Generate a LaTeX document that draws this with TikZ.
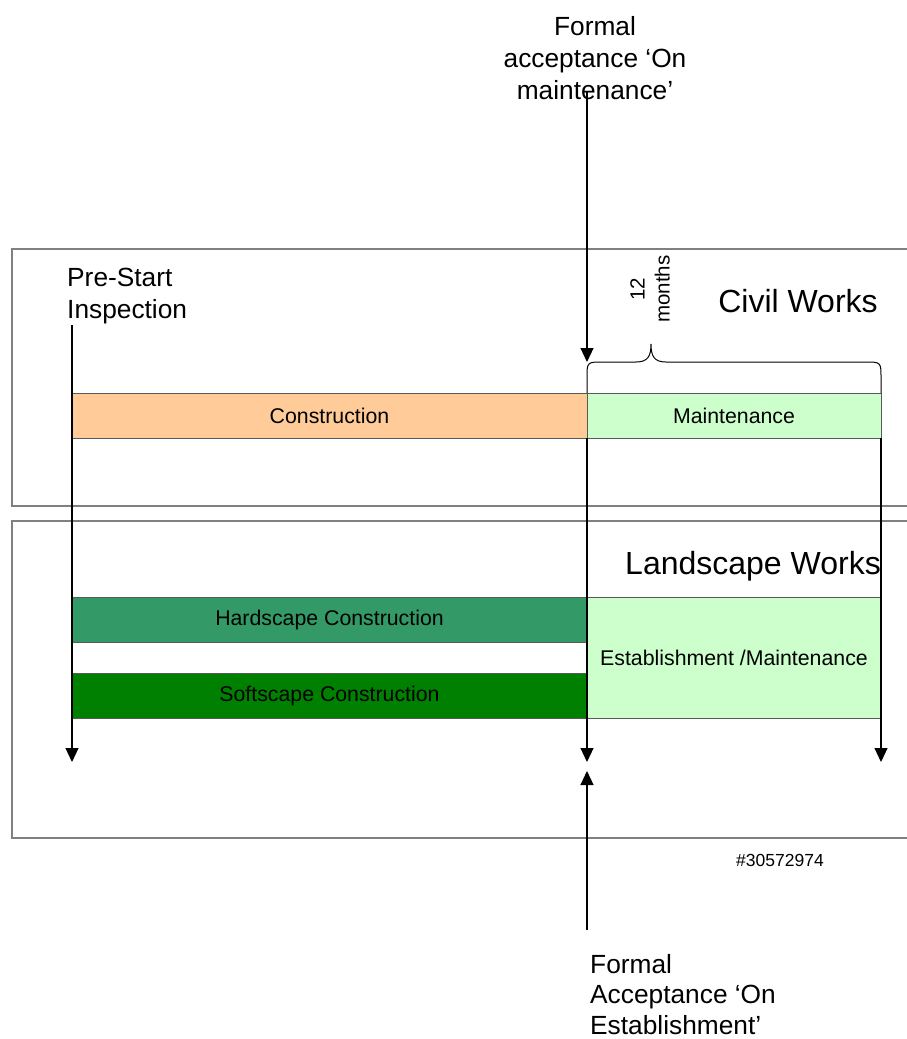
\documentclass[tikz,border=0pt]{standalone}
\usepackage{fontspec}
\setmainfont{Liberation Sans}
\usetikzlibrary{arrows.meta}
\definecolor{constrcol}{HTML}{FFCC99}
\definecolor{maintcol}{HTML}{CCFFCC}
\definecolor{hardcol}{HTML}{339966}
\definecolor{softcol}{HTML}{008000}
\definecolor{framecol}{HTML}{808080}
\begin{document}
\begin{tikzpicture}[
    x=1pt, y=-1pt,
    bar/.style={rectangle, draw=gray!70!black, line width=0.8pt, outer sep=0pt, inner sep=0pt, minimum width=515pt, minimum height=45pt, align=center, font=\fontsize{21.3}{24}\selectfont},
    frame/.style={draw=framecol, line width=1.8pt},
    label/.style={align=left, inner sep=0pt, font=\fontsize{26.3}{32}\selectfont},
    title/.style={inner sep=0pt, font=\fontsize{32}{36}\selectfont},
    arrow/.style={-{Triangle[length=14pt,width=13pt]}, line width=1.1pt}
]
    \useasboundingbox (0,0) rectangle (906,1039);

    % outer frames
    \draw[frame] (12,249) rectangle (912,506);
    \draw[frame] (12,521) rectangle (912,838);

    % bars
    \node[bar, fill=constrcol] (constr) at (329.5,415.5) {Construction};
    \node[bar, fill=maintcol, minimum width=294pt] (maint) at (734,415.5) {Maintenance};
    \node[bar, fill=hardcol] (hard) at (329.5,619.5) {Hardscape Construction};
    \node[bar, fill=softcol] (soft) at (329.5,695.5) {Softscape Construction};
    \node[bar, fill=maintcol, minimum width=294pt, minimum height=121pt] (estab) at (734,657.5) {Establishment /Maintenance};

    % titles and labels
    \node[title] (civil) at (798,301) {Civil Works};
    \node[title] (land) at (753,566) {Landscape Works};
    \node[label, align=center] (accmaint) at (595,58) {Formal\\acceptance ‘On\\maintenance’};
    \node[label, anchor=west] (prestart) at (67,296) {Pre-Start\\Inspection};
    \node[label, anchor=north west, font=\fontsize{26.3}{30.5}\selectfont] (accestab) at (590,954) {Formal\\Acceptance ‘On\\Establishment’};
    \node[align=center, inner sep=0pt, rotate=90, font=\fontsize{20.5}{25}\selectfont] (twelve) at (650,289) {12\\months};
    \node[inner sep=0pt, font=\fontsize{17.5}{20}\selectfont] (ref) at (780,860) {\#30572974};

    % arrow ends
    \coordinate (psstart) at (72,325);
    \coordinate (psend) at (72,762);
    \coordinate (acctop) at (587,92);
    \coordinate (accend) at (587,362);
    \coordinate (midend) at (587,762);
    \coordinate (rightend) at (881,762);
    \coordinate (botstart) at (587,930);
    \coordinate (botend) at (587,771);

    \draw[arrow] (psstart) -- (psend);
    \draw[arrow] (acctop) -- (accend);
    \draw[arrow] (maint.south west) -- (midend);
    \draw[arrow] (maint.south east) -- (rightend);
    \draw[arrow] (botstart) -- (botend);

    % brace over maintenance
    \draw[line width=1pt] (maint.north west) -- (587,378) .. controls (587,362) .. (603,362)
        -- (636,362) .. controls (648,362) and (651,356) .. (651,344)
        .. controls (651,356) and (654,362) .. (666,362)
        -- (865,362) .. controls (881,362) .. (881,378) -- (maint.north east);
\end{tikzpicture}
\end{document}
